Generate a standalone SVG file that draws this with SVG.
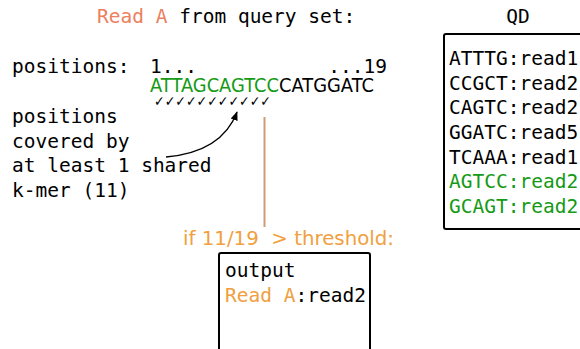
<svg xmlns="http://www.w3.org/2000/svg" width="580" height="349" viewBox="0 0 580 349">
<style>
.m{font-family:"DejaVu Sans Mono",monospace;font-size:19.5px;fill:#000}
.s{font-family:"DejaVu Sans",sans-serif}
.g{fill:#159a15}
.sal{fill:#ec8060}
.or{fill:#f0a040}
.box{fill:#fff;stroke:#000;stroke-width:2}
</style>
<defs>
<marker id="ah" viewBox="0 0 10 10" refX="9" refY="5" markerWidth="7" markerHeight="7" orient="auto"><path d="M0,1 L10,5 L0,9 z" fill="#000"/></marker>
</defs>
<g id="title"><text class="m" x="97" y="23"><tspan class="sal">Read A</tspan> from query set:</text></g>
<g id="positions">
<text class="m" x="12" y="73">positions:</text>
<text class="m" x="150" y="73">1...</text>
<text class="m" x="387" y="73" text-anchor="end">...19</text>
<text class="s g" x="150" y="92" font-size="19.5" textLength="224" lengthAdjust="spacingAndGlyphs">ATTAGCAGTCC<tspan fill="#000">CATGGATC</tspan></text>
<text class="s" x="154" y="106" font-size="14" font-weight="bold" textLength="117" lengthAdjust="spacingAndGlyphs">✓✓✓✓✓✓✓✓✓✓✓</text>
</g>
<g id="note">
<text class="m" x="12" y="123">positions</text>
<text class="m" x="12" y="147.7">covered by</text>
<text class="m" x="12" y="172.4">at least 1 shared</text>
<text class="m" x="12" y="197">k-mer (11)</text>
</g>
<g id="connectors">
<path d="M166,157 Q222,152 237,112" fill="none" stroke="#000" stroke-width="1.3" marker-end="url(#ah)"/>
<line x1="264.5" y1="117" x2="264.5" y2="227" stroke="#cf9a78" stroke-width="2"/>
</g>
<g id="condition"><text class="s or" x="183" y="245" font-size="19.8" xml:space="preserve">if 11/19  &gt; threshold:</text></g>
<g id="output">
<rect class="box" x="219" y="253" width="151" height="110" rx="2"/>
<text class="m" x="225" y="277">output</text>
<text class="m" x="225" y="302"><tspan class="or">Read A</tspan>:read2</text>
</g>
<g id="qd">
<text class="m" x="518" y="23" text-anchor="middle">QD</text>
<rect class="box" x="444" y="34" width="150" height="195" rx="2"/>
<text class="m" x="449" y="65">ATTTG:read1</text>
<text class="m" x="449" y="89.7">CCGCT:read2</text>
<text class="m" x="449" y="114.3">CAGTC:read2</text>
<text class="m" x="449" y="139">GGATC:read5</text>
<text class="m" x="449" y="163.7">TCAAA:read1</text>
<text class="m g" x="449" y="188.3">AGTCC:read2</text>
<text class="m g" x="449" y="213">GCAGT:read2</text>
</g>
</svg>
